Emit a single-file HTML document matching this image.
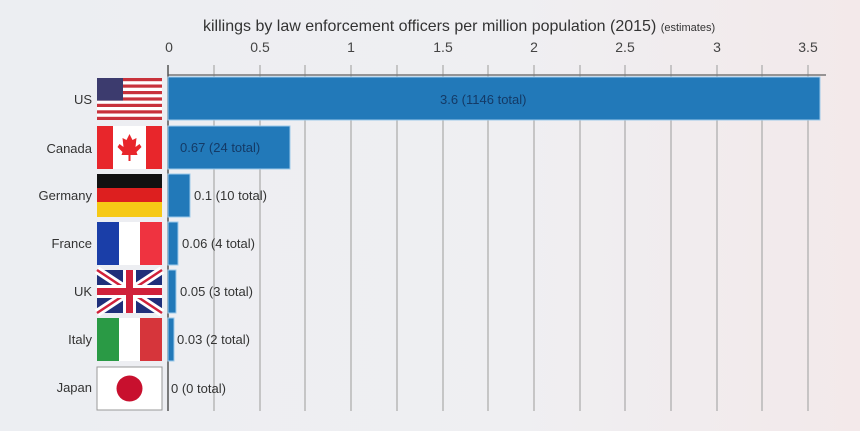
<!DOCTYPE html><html><head><style>body{margin:0}</style></head><body>
<svg width="860" height="431" xmlns="http://www.w3.org/2000/svg" font-family="Liberation Sans, sans-serif">
<defs><linearGradient id="bg" x1="0" x2="1"><stop offset="0" stop-color="#eceef2"/><stop offset="0.6" stop-color="#efeff2"/><stop offset="1" stop-color="#f3e9ea"/></linearGradient></defs>
<rect width="860" height="431" fill="url(#bg)"/>
<text x="203" y="31" font-size="16" fill="#333">killings by law enforcement officers per million population (2015) <tspan font-size="11">(estimates)</tspan></text>
<g stroke="#aaa" stroke-width="1.2">
<line x1="214" y1="65" x2="214" y2="411"/><line x1="260" y1="65" x2="260" y2="411"/><line x1="305" y1="65" x2="305" y2="411"/><line x1="351" y1="65" x2="351" y2="411"/><line x1="397" y1="65" x2="397" y2="411"/><line x1="443" y1="65" x2="443" y2="411"/><line x1="488" y1="65" x2="488" y2="411"/><line x1="534" y1="65" x2="534" y2="411"/><line x1="580" y1="65" x2="580" y2="411"/><line x1="625" y1="65" x2="625" y2="411"/><line x1="671" y1="65" x2="671" y2="411"/><line x1="717" y1="65" x2="717" y2="411"/><line x1="762" y1="65" x2="762" y2="411"/><line x1="808" y1="65" x2="808" y2="411"/>
</g>
<line x1="168" y1="75" x2="826" y2="75" stroke="#777" stroke-width="1.5"/>
<line x1="168" y1="65" x2="168" y2="411" stroke="#555" stroke-width="1.5"/>
<g font-size="14" fill="#444" text-anchor="middle">
<text x="169" y="52">0</text><text x="260" y="52">0.5</text><text x="351" y="52">1</text><text x="443" y="52">1.5</text><text x="534" y="52">2</text><text x="625" y="52">2.5</text><text x="717" y="52">3</text><text x="808" y="52">3.5</text>
</g>
<g fill="#2279b9" stroke="#9cc9ea" stroke-width="1">
<rect x="168" y="77" width="652" height="43"/><rect x="168" y="126" width="122" height="43"/><rect x="168" y="174" width="22" height="43"/><rect x="168" y="222" width="10" height="43"/><rect x="168" y="270" width="8" height="43"/><rect x="168" y="318" width="6" height="43"/>
</g>
<g font-size="13" fill="#333">
<text x="440" y="104" fill="#143a66">3.6 (1146 total)</text>
<text x="180" y="152" fill="#143a66">0.67 (24 total)</text>
<text x="194" y="200">0.1 (10 total)</text>
<text x="182" y="248">0.06 (4 total)</text>
<text x="180" y="296">0.05 (3 total)</text>
<text x="177" y="344">0.03 (2 total)</text>
<text x="171" y="393">0 (0 total)</text>
</g>
<g font-size="13" fill="#333" text-anchor="end">
<text x="92" y="104">US</text><text x="92" y="153">Canada</text><text x="92" y="200">Germany</text><text x="92" y="248">France</text><text x="92" y="296">UK</text><text x="92" y="344">Italy</text><text x="92" y="392">Japan</text>
</g>
<!-- US -->
<g transform="translate(97,78)"><rect width="65" height="42" fill="#fff"/>
<g fill="#c8323c"><rect y="0" width="65" height="3.2"/><rect y="6.5" width="65" height="3.2"/><rect y="13" width="65" height="3.2"/><rect y="19.4" width="65" height="3.2"/><rect y="25.8" width="65" height="3.2"/><rect y="32.3" width="65" height="3.2"/><rect y="38.8" width="65" height="3.2"/></g>
<rect width="26" height="22.6" fill="#3c3b6e"/></g>
<!-- Canada -->
<g transform="translate(97,126)"><rect width="65" height="43" fill="#fff"/><rect width="16" height="43" fill="#e8262b"/><rect x="49" width="16" height="43" fill="#e8262b"/><path d="M32.5 8 l3 6 4-2 -1 9 4-3 2 3 -5 5 1 3h-7v6h-2v-6h-7l1-3-5-5 2-3 4 3-1-9 4 2z" fill="#e8262b"/></g>
<!-- Germany -->
<g transform="translate(97,174)"><rect width="65" height="15" fill="#111"/><rect y="14" width="65" height="15" fill="#dd1f1f"/><rect y="28" width="65" height="15" fill="#f6c916"/></g>
<!-- France -->
<g transform="translate(97,222)"><rect width="22" height="43" fill="#1a3ea8"/><rect x="22" width="21" height="43" fill="#fff"/><rect x="43" width="22" height="43" fill="#ef3340"/></g>
<!-- UK -->
<g transform="translate(97,270)"><rect width="65" height="43" fill="#1f2f7a"/><path d="M0 0L65 43M65 0L0 43" stroke="#fff" stroke-width="8"/><path d="M0 0L65 43M65 0L0 43" stroke="#d0213a" stroke-width="2.5"/><rect x="26" width="13" height="43" fill="#fff"/><rect y="15" width="65" height="13" fill="#fff"/><rect x="29" width="7" height="43" fill="#d0213a"/><rect y="18" width="65" height="7" fill="#d0213a"/></g>
<!-- Italy -->
<g transform="translate(97,318)"><rect width="22" height="43" fill="#2a9a45"/><rect x="22" width="21" height="43" fill="#fff"/><rect x="43" width="22" height="43" fill="#d6353b"/></g>
<!-- Japan -->
<g transform="translate(97,367)"><rect width="65" height="43" fill="#fff" stroke="#999"/><circle cx="32.5" cy="21.5" r="13" fill="#c8102e"/></g>
</svg>
</body></html>
